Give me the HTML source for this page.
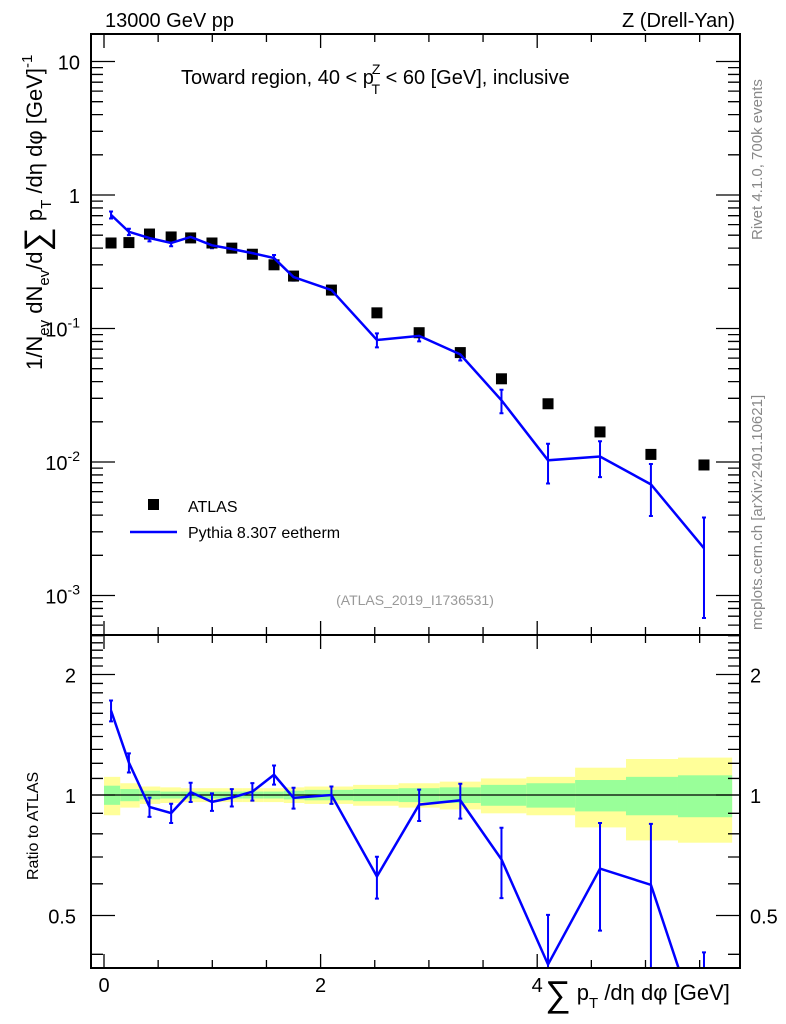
<!DOCTYPE html>
<html><head><meta charset="utf-8"><style>
html,body{margin:0;background:#fff;overflow:hidden;width:786px;height:1024px;}
svg{display:block;font-family:"Liberation Sans",sans-serif;}
</style></head><body>
<svg id="c" width="786" height="1024" viewBox="0 0 786 1024"></svg>
<script>
const xVals=[0.065,0.23,0.42,0.62,0.80,0.997,1.18,1.37,1.57,1.75,2.1,2.52,2.91,3.29,3.67,4.1,4.58,5.05,5.54];
const binEdges=[0,0.15,0.33,0.52,0.71,0.9,1.09,1.28,1.47,1.66,1.85,2.3,2.72,3.1,3.48,3.9,4.35,4.82,5.3,5.8];
const atlasVals=[0.437,0.44,0.51,0.485,0.477,0.437,0.40,0.36,0.30,0.247,0.194,0.131,0.093,0.066,0.042,0.0273,0.0168,0.0114,0.0095];
const mcVals=[0.71,0.53,0.476,0.437,0.485,0.42,0.394,0.367,0.337,0.243,0.194,0.082,0.088,0.064,0.029,0.0103,0.011,0.0068,0.00226];
const mcErrRel=[0.06,0.055,0.055,0.055,0.055,0.05,0.05,0.05,0.055,0.06,0.05,0.12,0.09,0.1,0.2,0.33,0.3,0.42,0.7];
const yellowRel=[0.11,0.07,0.05,0.045,0.04,0.04,0.04,0.04,0.04,0.045,0.05,0.06,0.07,0.08,0.1,0.11,0.17,0.23,0.24];
const greenRel=[0.055,0.035,0.025,0.02,0.02,0.02,0.02,0.02,0.02,0.025,0.03,0.035,0.04,0.045,0.06,0.07,0.09,0.11,0.12];
const xTicks=[0,2,4];
const ns="http://www.w3.org/2000/svg";
const svg=document.getElementById('c');
const L=91,R=740,T=34,M=635,B=968;
const X=v=>104+v*108.3;
const Y=v=>195-Math.log10(v)*133.5;
const RY=r=>795-Math.log2(r)*120.5;
function el(t,a,p){const e=document.createElementNS(ns,t);for(const k in a)e.setAttribute(k,a[k]);(p||svg).appendChild(e);return e;}
function txt(x,y,s,a){const e=el('text',Object.assign({x:x,y:y},a||{}));e.textContent=s;return e;}
const defs=el('defs',{});
const cp=el('clipPath',{id:'rc'},defs);el('rect',{x:L,y:M,width:R-L,height:B-M},cp);
const cp2=el('clipPath',{id:'mc'},defs);el('rect',{x:L,y:T,width:R-L,height:M-T},cp2);
const gB=el('g',{'clip-path':'url(#rc)'});


for(let i=0;i<xVals.length;i++){
 const x0=X(binEdges[i]),x1=X(binEdges[i+1]);
 const ry=el('rect',{x:x0,y:RY(1+yellowRel[i]),width:x1-x0,height:RY(1-yellowRel[i])-RY(1+yellowRel[i]),fill:'#ffff99'},gB);
 
 
 const rg=el('rect',{x:x0,y:RY(1+greenRel[i]),width:x1-x0,height:RY(1-greenRel[i])-RY(1+greenRel[i]),fill:'#99ff99'},gB);
 
 
}
el('line',{x1:L,x2:R,y1:RY(1),y2:RY(1),stroke:'#000','stroke-width':1.3},gB);
const gR=el('g',{'clip-path':'url(#rc)'});
let pts=[];
for(let i=0;i<xVals.length;i++){
 const r=mcVals[i]/atlasVals[i],x=X(xVals[i]);pts.push(x+','+RY(r));
 const y1=RY(r*(1+mcErrRel[i])),y2=RY(Math.max(r*(1-mcErrRel[i]),0.01));
 const eb=el('path',{d:`M${x},${y1}V${y2}M${x-2},${y1}h4M${x-2},${y2}h4`,stroke:'#0000ff','stroke-width':2,fill:'none'},gR);
 
 
}
const rl=el('polyline',{points:pts.join(' '),fill:'none',stroke:'#0000ff','stroke-width':2.5},gR);


const gM=el('g',{'clip-path':'url(#mc)'});
pts=[];
for(let i=0;i<xVals.length;i++){
 const x=X(xVals[i]),v=mcVals[i];pts.push(x+','+Y(v));
 const y1=Y(v*(1+mcErrRel[i])),y2=Y(Math.max(v*(1-mcErrRel[i]),1e-5));
 const eb=el('path',{d:`M${x},${y1}V${y2}M${x-2},${y1}h4M${x-2},${y2}h4`,stroke:'#0000ff','stroke-width':2,fill:'none'},gM);
 
 
}
for(let i=0;i<xVals.length;i++){
 const m=el('rect',{x:X(xVals[i])-5.5,y:Y(atlasVals[i])-5.5,width:11,height:11,fill:'#000'},gM);
 
 
}
const ml=el('polyline',{points:pts.join(' '),fill:'none',stroke:'#0000ff','stroke-width':2.5},gM);


el('rect',{x:L,y:T,width:R-L,height:M-T,fill:'none',stroke:'#000','stroke-width':2});
el('rect',{x:L,y:M,width:R-L,height:B-M,fill:'none',stroke:'#000','stroke-width':2});
let d='';
for(let v=0;v<=6;v+=0.5){const x=X(v);if(x>R)break;const len=(v%2===0)?14:8;
 d+=`M${x},${T}v${len}M${x},${M}v${-len}M${x},${M}v${len}M${x},${B}v${-len}`;}
for(let e=-4;e<=1;e++)for(let k=1;k<10;k++){const y=Y(k*Math.pow(10,e));if(y<T||y>M)continue;const len=k===1?24:12;d+=`M${L},${y}h${len}M${R},${y}h${-len}`;}
[0.4,0.5,0.6,0.7,0.8,0.9,1,1.1,1.2,1.3,1.4,1.5,1.6,1.7,1.8,1.9,2,2.1,2.2,2.3,2.4,2.5].forEach(r=>{const y=RY(r);if(y<M||y>B)return;const len=(r===0.5||r===1||r===2)?24:12;d+=`M${L},${y}h${len}M${R},${y}h${-len}`;});
el('path',{d:d,stroke:'#000','stroke-width':1.3,fill:'none'});
xTicks.forEach(v=>{const t=txt(X(v),992,String(v),{'font-size':20,'text-anchor':'middle'});});
[['10',10],['1',1]].forEach(([s,v])=>{const t=txt(80,Y(v)+8,s,{'font-size':20,'text-anchor':'end'});});
[0.1,0.01,0.001].forEach((v,i)=>{const t=el('text',{x:80,y:Y(v)+8,'font-size':20,'text-anchor':'end'});t.innerHTML=`10<tspan dy="-9" font-size="14">${-1-i}</tspan>`;});
[['2',2],['1',1],['0.5',0.5]].forEach(([s,v])=>{txt(76,RY(v)+8,s,{'font-size':20,'text-anchor':'end'});txt(750,RY(v)+8,s,{'font-size':20});});
txt(105,27,'13000 GeV pp',{'font-size':20,});
txt(735,27,'Z (Drell-Yan)',{'font-size':20,'text-anchor':'end',});
const st=el('text',{x:181,y:84,'font-size':20,});
st.innerHTML='Toward region, 40 &lt; p<tspan dx="-2" dy="-10" font-size="14">Z</tspan><tspan dx="-9" dy="20" font-size="14">T</tspan><tspan dy="-10"> &lt; 60 [GeV], inclusive</tspan>';
txt(415,605,'(ATLAS_2019_I1736531)',{'font-size':14,fill:'#999','text-anchor':'middle',});
el('rect',{x:148,y:499,width:11,height:11,fill:'#000',});
txt(188,512,'ATLAS',{'font-size':16,});
el('line',{x1:130,x2:177,y1:532,y2:532,stroke:'#0000ff','stroke-width':2.5,});
txt(188,538,'Pythia 8.307 eetherm',{'font-size':16,});
const yt=el('text',{transform:'translate(42,370) rotate(-90)','font-size':22,});
yt.innerHTML='1/N<tspan dy="7" font-size="15">ev</tspan><tspan dy="-7"> dN</tspan><tspan dy="7" font-size="15">ev</tspan><tspan dy="-7">/d</tspan><tspan font-size="34" dy="6">∑</tspan><tspan dy="-6"> p</tspan><tspan dy="9" font-size="15">T</tspan><tspan dy="-9"> /dη dφ  [GeV]</tspan><tspan dy="-10" font-size="15">-1</tspan>';
txt(0,0,'Ratio to ATLAS',{transform:'translate(38,880) rotate(-90)','font-size':16,});
const xt=el('text',{x:545,y:1000,'font-size':22,});
xt.innerHTML='<tspan font-size="36" dy="6">∑</tspan><tspan dy="-6"> p</tspan><tspan dy="8" font-size="15">T</tspan><tspan dy="-8"> /dη dφ [GeV]</tspan>';
txt(0,0,'Rivet 4.1.0,  700k events',{transform:'translate(762,240) rotate(-90)','font-size':15,fill:'#888',});
txt(0,0,'mcplots.cern.ch [arXiv:2401.10621]',{transform:'translate(762,630) rotate(-90)','font-size':15,fill:'#888',});
</script>
</body></html>
